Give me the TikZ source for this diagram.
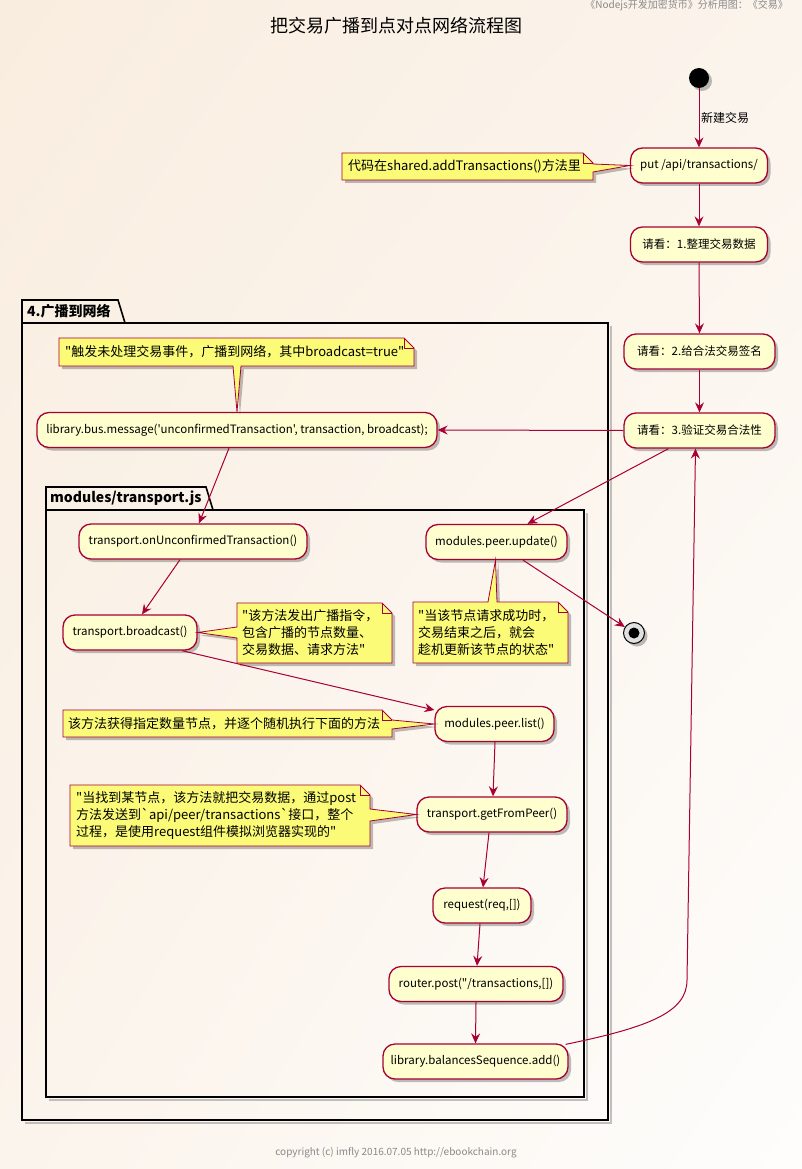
\documentclass[tikz,border=0pt]{standalone}
\usepackage{fontspec}
\newfontfamily\cjk{Noto Sans CJK SC}
\usetikzlibrary{arrows.meta,shadows,calc,shadings}
\definecolor{bord}{HTML}{A80036}
\definecolor{actfill}{HTML}{FEFECE}
\definecolor{notefill}{HTML}{FBFB77}
\definecolor{bgtop}{HTML}{F9EDDF}
\definecolor{bgmid}{HTML}{FBF4EC}
\definecolor{bgbot}{HTML}{FEFDFC}
\definecolor{hdr}{HTML}{8A8A8A}
\begin{document}
\begin{tikzpicture}[x=1pt,y=-1pt,font=\cjk,
  shad/.style={drop shadow={shadow xshift=3pt,shadow yshift=-3pt,opacity=0.25,fill=black}},
  act/.style={draw=bord,fill=actfill,line width=1.3pt,rounded corners=12pt,minimum height=35pt,inner sep=0pt,font=\cjk\fontsize{11.5}{14}\selectfont,shad},
  note/.style={draw=bord,fill=notefill,line width=0.8pt,line join=miter,shad},
  notefold/.style={draw=bord,line width=0.8pt},
  notetext/.style={anchor=west,inner sep=0pt,align=left,font=\cjk\fontsize{13}{17}\selectfont},
  arr/.style={draw=bord,line width=1pt,-{Stealth[length=10pt,width=9pt,inset=3.5pt]}},
  pkg/.style={draw=black,line width=1.6pt,line join=miter},
  pkgshadow/.style={draw=black!40,line width=1.6pt,opacity=0.6},
  pkglabel/.style={anchor=west,inner sep=0pt,font=\cjk\fontsize{14}{16}\selectfont\bfseries},
  lbl/.style={anchor=west,inner sep=0pt,font=\cjk\fontsize{12}{14}\selectfont}]
\useasboundingbox (0,0) rectangle (802,1169);
\shade[upper left=bgtop,upper right=bgmid,lower left=bgmid,lower right=bgbot] (0,0) rectangle (802,1169);

% header, title, footer
\node[anchor=north east,inner sep=0pt,text=hdr,font=\cjk\fontsize{10}{12}\selectfont] (hdr) at (788,0) {《Nodejs开发加密货币》分析用图：《交易》};
\node[inner sep=0pt,font=\cjk\fontsize{18}{20}\selectfont] (title) at (396,26) {把交易广播到点对点网络流程图};
\node[inner sep=0pt,text=hdr,font=\cjk\fontsize{10}{12}\selectfont] (foot) at (396,1153) {copyright (c) imfly 2016.07.05 http://ebookchain.org};

% packages
\draw[pkgshadow] (611,326) -- (611,1123) -- (25,1123);
\draw[pkg] (22,1120) -- (22,300) -- (118,300) -- (125,323) -- (608,323) -- (608,1120) -- cycle;
\draw[pkg] (22,323) -- (125,323);
\node[pkglabel] (p1) at (27,311.5) {4.广播到网络};
\draw[pkgshadow] (587,513) -- (587,1100) -- (49,1100);
\draw[pkg] (46,1097) -- (46,487) -- (206,487) -- (213,510) -- (584,510) -- (584,1097) -- cycle;
\draw[pkg] (46,510) -- (213,510);
\node[pkglabel] (p2) at (50,498.5) {modules/transport.js};

% activities
\node[circle,fill=black,minimum size=20pt,inner sep=0pt,shad] (start) at (699,78) {};
\node[act,minimum width=137pt] (put) at (699,165.5) {put /api/transactions/};
\node[act,minimum width=137pt] (r1) at (699,244.5) {请看：1.整理交易数据};
\node[act,minimum width=151pt] (r2) at (699.5,351.5) {请看：2.给合法交易签名};
\node[act,minimum width=151pt] (r3) at (699.5,430.5) {请看：3.验证交易合法性};
\node[act,minimum width=400pt] (bus) at (237,430) {library.bus.message('unconfirmedTransaction', transaction, broadcast);};
\node[act,minimum width=228pt] (onu) at (193,541.5) {transport.onUnconfirmedTransaction()};
\node[act,minimum width=141pt] (upd) at (496.5,542) {modules.peer.update()};
\node[act,minimum width=134pt] (bc) at (130,632.5) {transport.broadcast()};
\node[act,minimum width=119pt] (list) at (494.5,724) {modules.peer.list()};
\node[act,minimum width=150pt] (gfp) at (492,814.5) {transport.getFromPeer()};
\node[act,minimum width=98pt] (req) at (482,905.5) {request(req,[])};
\node[act,minimum width=174pt] (rt) at (476,984) {router.post("/transactions,[])};
\node[act,minimum width=185pt] (bal) at (475.5,1061.5) {library.balancesSequence.add()};
\node[circle,draw=black,fill=black!12,line width=1pt,minimum size=21pt,inner sep=0pt,shad] (end) at (634,633) {};
\node[circle,fill=black,minimum size=11pt,inner sep=0pt] (endin) at (end) {};

% notes
\filldraw[note] (342,153) -- (583,153) -- (593,163) -- (593,164) -- (put.west) -- (593,172) -- (593,180) -- (342,180) -- cycle;
\draw[notefold] (583,153) -- (583,163) -- (593,163);
\node[notetext] (n1) at (348,166.5) {代码在shared.addTransactions()方法里};

\filldraw[note] (59,338) -- (404,338) -- (414,348) -- (414,366) -- (241,366) -- (bus.north) -- (233,366) -- (59,366) -- cycle;
\draw[notefold] (404,338) -- (404,348) -- (414,348);
\node[notetext] (n2) at (65,352) {"触发未处理交易事件，广播到网络，其中broadcast=true"};

\filldraw[note] (413,602) -- (488,602) -- ($(upd.south)+(-1,0)$) -- (497,602) -- (558,602) -- (568,612) -- (568,663) -- (413,663) -- cycle;
\draw[notefold] (558,602) -- (558,612) -- (568,612);
\node[notetext] (n3) at (418,633) {"当该节点请求成功时，\\交易结束之后，就会\\趁机更新该节点的状态"};

\filldraw[note] (237,603) -- (382,603) -- (392,613) -- (392,663) -- (237,663) -- (237,638) -- (bc.east) -- (237,627) -- cycle;
\draw[notefold] (382,603) -- (382,613) -- (392,613);
\node[notetext] (n4) at (242,633) {"该方法发出广播指令，\\包含广播的节点数量、\\交易数据、请求方法"};

\filldraw[note] (63,710) -- (382,710) -- (392,720) -- (list.west) -- (392,729) -- (392,737) -- (63,737) -- cycle;
\draw[notefold] (382,710) -- (382,720) -- (392,720);
\node[notetext] (n5) at (68,723.5) {该方法获得指定数量节点，并逐个随机执行下面的方法};

\filldraw[note] (70,785) -- (360,785) -- (370,795) -- (370,809) -- (gfp.west) -- (370,821) -- (370,846) -- (70,846) -- cycle;
\draw[notefold] (360,785) -- (360,795) -- (370,795);
\node[notetext] (n6) at (76,815.5) {"当找到某节点，该方法就把交易数据，通过post\\方法发送到`api/peer/transactions`接口，整个\\过程，是使用request组件模拟浏览器实现的"};

% connectors
\draw[arr] (start) -- (put.north);
\node[lbl] (lnew) at (701,118) {新建交易};
\draw[arr] (put.south) -- (r1.north);
\draw[arr] (r1.south) -- (r2.north);
\draw[arr] (r2.south) -- (r3.north);
\draw[arr] (r3.west) -- (bus.east);
\draw[arr] ($(r3.south)+(-31,0)$) -- ($(upd.north)+(31,0)$);
\draw[arr] ($(bus.south)+(-8,0)$) -- ($(onu.north)+(6,0)$);
\draw[arr] ($(onu.south)+(-13,0)$) -- ($(bc.north)+(12,0)$);
\draw[arr] ($(upd.south)+(26.5,0)$) -- (end);
\draw[arr] ($(bc.south)+(52,0)$) -- ($(list.west)+(0,-14)$);
\draw[arr] ($(list.south)+(0.5,0)$) -- ($(gfp.north)+(1,0)$);
\draw[arr] ($(gfp.south)+(-3,0)$) -- ($(req.north)+(1,0)$);
\draw[arr] ($(req.south)+(-2,0)$) -- ($(rt.north)+(1,0)$);
\draw[arr] (rt.south) -- (bal.north);
\coordinate (bend) at (687,980);
\draw[arr] ($(bal.north east)+(-3,1)$) .. controls (650,1027) and (687,1012) .. (bend) -- ($(r3.south)+(-4,0)$);
\end{tikzpicture}
\end{document}
